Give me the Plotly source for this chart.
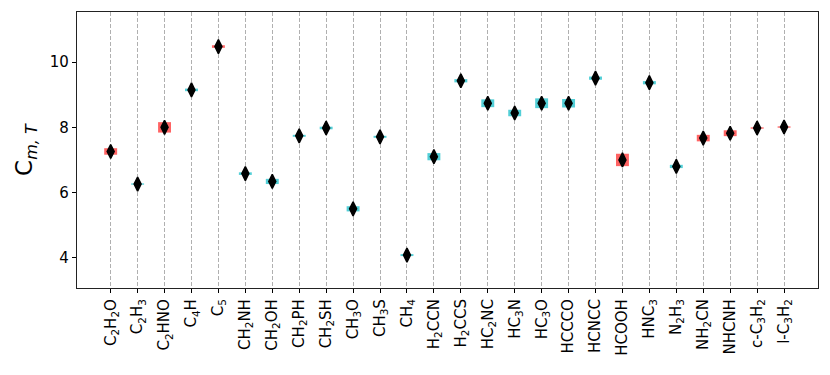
import plotly.graph_objects as go

# Molekuele (Tick-Beschriftung mit Indizes)
molecules = ["C<sub>2</sub>H<sub>2</sub>O", "C<sub>2</sub>H<sub>3</sub>", "C<sub>2</sub>HNO", "C<sub>4</sub>H",
             "C<sub>5</sub>", "CH<sub>2</sub>NH", "CH<sub>2</sub>OH", "CH<sub>2</sub>PH", "CH<sub>2</sub>SH",
             "CH<sub>3</sub>O", "CH<sub>3</sub>S", "CH<sub>4</sub>", "H<sub>2</sub>CCN", "H<sub>2</sub>CCS",
             "HC<sub>2</sub>NC", "HC<sub>3</sub>N", "HC<sub>3</sub>O", "HCCCO", "HCNCC", "HCOOH",
             "HNC<sub>3</sub>", "N<sub>2</sub>H<sub>3</sub>", "NH<sub>2</sub>CN", "NHCNH",
             "c-C<sub>3</sub>H<sub>2</sub>", "l-C<sub>3</sub>H<sub>2</sub>"]

# Mittelwert C_m,T
c_mt = [7.26, 6.26, 8.00, 9.15, 10.48, 6.58, 6.34, 7.74, 7.98, 5.50, 7.71, 4.08, 7.10,
        9.43, 8.74, 8.44, 8.74, 8.74, 9.51, 7.00, 9.37, 6.80, 7.67, 7.82, 7.98, 8.01]

# halbe Streuung (Rechteckhoehe / 2)
spread = [0.10, 0.02, 0.16, 0.04, 0.04, 0.04, 0.08, 0.03, 0.04, 0.08, 0.03, 0.03, 0.11,
          0.05, 0.12, 0.10, 0.15, 0.13, 0.05, 0.19, 0.05, 0.05, 0.10, 0.09, 0.02, 0.02]

# Gruppe: r = rot, c = cyan
group = ["r", "c", "r", "c", "r", "c", "c", "c", "c", "c", "c", "c", "c",
         "c", "c", "c", "c", "c", "c", "r", "c", "c", "r", "r", "r", "r"]

colors = {"r": "rgba(255,60,60,0.8)", "c": "rgba(40,195,205,0.8)"}

fig = go.Figure()

for g in ["r", "c"]:
    idx = [i for i in range(len(molecules)) if group[i] == g]
    fig.add_trace(go.Bar(
        x=[molecules[i] for i in idx],
        y=[2 * spread[i] for i in idx],
        base=[c_mt[i] - spread[i] for i in idx],
        width=0.48,
        marker=dict(color=colors[g], line=dict(width=0)),
        showlegend=False
    ))

fig.add_trace(go.Scatter(
    x=molecules, y=c_mt, mode="markers",
    marker=dict(symbol="diamond-tall", size=10, color="black",
                line=dict(color="black", width=1.5)),
    showlegend=False
))

# Seite hat 8px Body-Rand -> Abmessungen entsprechend kleiner
fig.update_layout(
    width=822, height=367,
    margin=dict(l=69, r=12, t=4, b=87),
    plot_bgcolor="white", paper_bgcolor="white",
    font=dict(family="DejaVu Sans", size=15, color="black"),
    barmode="overlay",
)
fig.update_xaxes(
    type="category", categoryorder="array", categoryarray=molecules,
    range=[-1.25, 26.26], automargin=False,
    tickangle=-90, ticks="outside", ticklen=4, tickcolor="black",
    showgrid=True, gridcolor="#b0b0b0", griddash="4px,2px", gridwidth=1,
    showline=True, linecolor="#222", linewidth=1.2, mirror=True,
    tickfont=dict(size=15)
)
fig.update_yaxes(
    range=[3.07, 11.54], tickvals=[4, 6, 8, 10], automargin=False,
    ticks="outside", ticklen=4, tickcolor="black", showgrid=False, zeroline=False,
    showline=True, linecolor="#222", linewidth=1.2, mirror=True,
    title=dict(text="C<sub><i>m, T</i></sub>", font=dict(size=23), standoff=10),
    tickfont=dict(size=15)
)

fig.write_html("out.html")
